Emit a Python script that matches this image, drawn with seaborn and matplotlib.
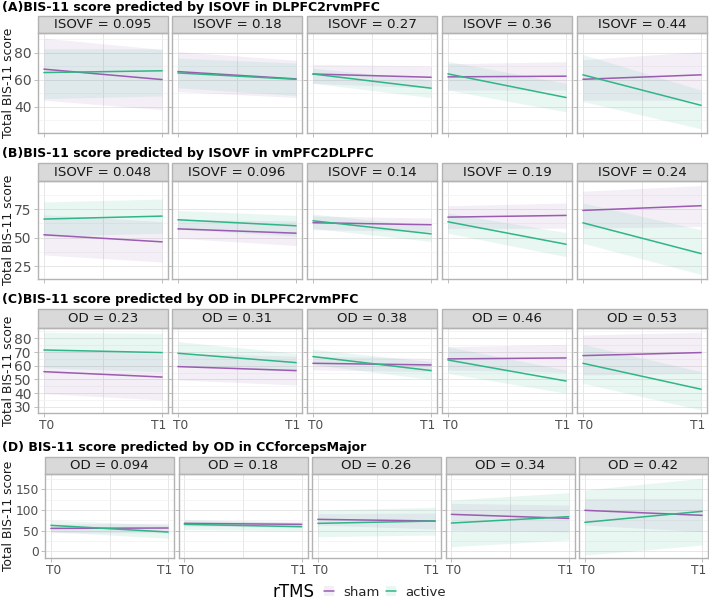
import matplotlib.pyplot as plt
import pandas as pd
import seaborn as sns
from matplotlib.patches import Rectangle, Patch
from matplotlib.lines import Line2D
from matplotlib.transforms import ScaledTranslation

sns.set_theme(style='white')
plt.rcParams['font.family'] = ['DejaVu Sans']

# x positions of the two time points and their labels
time_x = [0, 1]
time_labels = ['T0', 'T1']
groups = ['sham', 'active']
palette = {'sham': '#9A5BB0', 'active': '#2FB586'}

# ---- (A) ISOVF in DLPFC2rvmPFC ----
a_title = '(A)BIS-11 score predicted by ISOVF in DLPFC2rvmPFC'
a_facets = ['ISOVF = 0.095', 'ISOVF = 0.18', 'ISOVF = 0.27', 'ISOVF = 0.36', 'ISOVF = 0.44']
a_sham = [[68, 60.3], [66.2, 60.8], [64.4, 62], [62.3, 62.8], [60.5, 63.8]]
a_sham_lo = [[45, 38], [51.4, 47], [57.5, 54], [52.5, 52.5], [45, 45]]
a_sham_hi = [[91, 82.6], [81, 74.6], [71.5, 70.4], [72, 73.5], [75, 81]]
a_active = [[65.5, 66.8], [65.2, 60.5], [64.4, 53.9], [64.5, 47], [63.8, 41.2]]
a_active_lo = [[46.2, 48.2], [54.2, 48.5], [57.5, 46.9], [52.5, 36.3], [44, 23.8]]
a_active_hi = [[83.2, 83], [76.2, 72.5], [68.7, 60], [73.8, 57.5], [78.8, 52.5]]

# ---- (B) ISOVF in vmPFC2DLPFC ----
b_title = '(B)BIS-11 score predicted by ISOVF in vmPFC2DLPFC'
b_facets = ['ISOVF = 0.048', 'ISOVF = 0.096', 'ISOVF = 0.14', 'ISOVF = 0.19', 'ISOVF = 0.24']
b_sham = [[52.4, 46.2], [57.6, 53.8], [63, 61.2], [67.9, 69.4], [73.8, 77.9]]
b_sham_lo = [[34.7, 28.5], [49.4, 43], [57, 55.3], [57.9, 58.2], [58.2, 59.7]]
b_sham_hi = [[70, 64], [65.8, 64.6], [69, 67], [77.9, 80.3], [90.6, 95.6]]
b_active = [[66.2, 68.8], [65.6, 60.3], [64.7, 53.2], [63.8, 44.1], [62.9, 35.9]]
b_active_lo = [[51.2, 53.8], [57.4, 51.2], [58, 46.5], [53.8, 33.2], [45, 17.6]]
b_active_hi = [[81.2, 83.8], [73.8, 69.4], [70.6, 59.7], [71.5, 54.4], [80.3, 56.8]]

# ---- (C) OD in DLPFC2rvmPFC ----
c_title = '(C)BIS-11 score predicted by OD in DLPFC2rvmPFC'
c_facets = ['OD = 0.23', 'OD = 0.31', 'OD = 0.38', 'OD = 0.46', 'OD = 0.53']
c_sham = [[55.7, 51.8], [59.4, 56.5], [61.8, 60.6], [65, 65.7], [67.4, 69.6]]
c_sham_lo = [[39.7, 35.1], [49.7, 46], [57, 55.7], [56.9, 55.2], [53.3, 54.5]]
c_sham_hi = [[71.7, 68.5], [69.1, 67], [67, 65.4], [73.9, 75.6], [82.4, 84.4]]
c_active = [[71.5, 69.6], [69.1, 62.3], [66.7, 56.5], [64.2, 48.9], [61.8, 42.9]]
c_active_lo = [[58.6, 55.6], [60.6, 55.5], [61, 50], [54.5, 40], [47.2, 27.8]]
c_active_hi = [[84.4, 83.6], [77.6, 69.1], [72, 63], [73.9, 56.9], [75.6, 55.7]]

# ---- (D) OD in CCforcepsMajor ----
d_title = '(D) BIS-11 score predicted by OD in CCforcepsMajor'
d_facets = ['OD = 0.094', 'OD = 0.18', 'OD = 0.26', 'OD = 0.34', 'OD = 0.42']
d_sham = [[55.6, 56.5], [67.7, 65.3], [77.4, 73.4], [89.5, 79.8], [99.2, 87.1]]
d_sham_lo = [[45, 45], [61.3, 58], [63.7, 54], [51.6, 47], [63.7, 47.6]]
d_sham_hi = [[66, 68], [74, 72.6], [91, 92.8], [116, 112], [128.2, 128.2]]
d_active = [[62.9, 46.8], [65.3, 59.7], [67.7, 73.4], [68.5, 83.9], [70.2, 96.8]]
d_active_lo = [[47.6, 31.5], [53.2, 49.2], [35.5, 39.5], [11.3, 27.4], [-8.9, 15.3]]
d_active_hi = [[75.8, 63.7], [77.4, 69.4], [100, 106.5], [124.2, 141.9], [148.4, 176.6]]

rows = [
    (a_title, a_facets, a_sham, a_sham_lo, a_sham_hi, a_active, a_active_lo, a_active_hi),
    (b_title, b_facets, b_sham, b_sham_lo, b_sham_hi, b_active, b_active_lo, b_active_hi),
    (c_title, c_facets, c_sham, c_sham_lo, c_sham_hi, c_active, c_active_lo, c_active_hi),
    (d_title, d_facets, d_sham, d_sham_lo, d_sham_hi, d_active, d_active_lo, d_active_hi),
]

# layout (pixels)
W, H = 709, 601
row_cols = [  # panel left edges and width per row
    ([38, 172, 307, 442, 577], 130),
    ([38, 172, 307, 442, 577], 130),
    ([38, 172, 307, 442, 577], 130),
    ([45, 178.5, 312, 445.5, 579], 129),
]
row_layout = [  # strip top, panel top, panel bottom, title y
    (16, 33, 133, 8),
    (163, 181, 279, 153),
    (309, 328, 413, 300),
    (457, 474, 558, 447),
]
ylims = [(20.7, 94.8), (13.6, 99.6), (25.6, 87.5), (-16, 187)]
yticks = [[40, 60, 80], [25, 50, 75], [30, 40, 50, 60, 70, 80], [0, 50, 100, 150]]
yminor = [[30, 50, 70, 90], [37.5, 62.5, 87.5], [35, 45, 55, 65, 75, 85], [25, 75, 125, 175]]
ytick_size = [10, 10, 10, 8.8]
label_shift = [1.8, -2.4]  # points; nudges T0 right, T1 left as in the original

fig = plt.figure(figsize=(W / 100, H / 100), dpi=100)

for r, (title, facets, sh, sh_lo, sh_hi, ac, ac_lo, ac_hi) in enumerate(rows):
    s_top, p_top, p_bot, t_y = row_layout[r]
    lefts, panel_w = row_cols[r]
    p_h = p_bot - p_top
    fig.text(2 / W, 1 - t_y / H, title, fontsize=9, fontweight='bold',
             ha='left', va='center', color='black')
    fig.text(9 / W, 1 - (p_top + p_h / 2) / H, 'Total BIS-11 score', rotation=90,
             fontsize=8.9, ha='center', va='center', color='#1A1A1A')
    for c in range(5):
        ax = fig.add_axes([lefts[c] / W, 1 - p_bot / H, panel_w / W, p_h / H])
        df = pd.DataFrame({
            'time': time_x * 2,
            'score': sh[c] + ac[c],
            'rTMS': ['sham'] * 2 + ['active'] * 2,
        })
        ax.fill_between(time_x, sh_lo[c], sh_hi[c], color=palette['sham'],
                        alpha=0.1, lw=0, zorder=1)
        ax.fill_between(time_x, ac_lo[c], ac_hi[c], color=palette['active'],
                        alpha=0.1, lw=0, zorder=1)
        sns.lineplot(data=df, x='time', y='score', hue='rTMS', hue_order=groups,
                     palette=palette, legend=False, lw=1.1, ax=ax, zorder=3)
        ax.set_xlim(-0.05, 1.05)
        ax.set_ylim(*ylims[r])
        ax.set_xticks(time_x)
        ax.set_xticks([0.5], minor=True)
        ax.set_xticklabels(time_labels if r >= 2 else ['', ''])
        ax.set_yticks(yticks[r])
        ax.set_yticks(yminor[r], minor=True)
        if c > 0:
            ax.set_yticklabels([])
        ax.set_xlabel('')
        ax.set_ylabel('')
        ax.set_axisbelow(True)
        ax.grid(which='major', color='#E3E3E3', lw=0.6)
        ax.grid(which='minor', axis='x', color='#E3E3E3', lw=0.6)
        ax.grid(which='minor', axis='y', color='#F2F2F2', lw=0.5)
        ax.tick_params(axis='both', which='major', length=3, width=0.6, color='#B3B3B3',
                       labelcolor='#4D4D4D', pad=1.5, bottom=True, left=True)
        ax.tick_params(axis='y', which='major', labelsize=ytick_size[r])
        ax.tick_params(axis='x', which='major', labelsize=8.8)
        ax.tick_params(which='minor', length=0)
        # nudge T0 / T1 inward, after tick_params so the pad reset doesn't undo it
        for lab, dx in zip(ax.get_xticklabels(), label_shift):
            lab.set_transform(lab.get_transform() + ScaledTranslation(dx / 72, 0, fig.dpi_scale_trans))
        for sp in ax.spines.values():
            sp.set_color('#B3B3B3')
            sp.set_linewidth(1)
        sh_frac = (p_top - s_top) / p_h
        ax.add_patch(Rectangle((0, 1), 1, sh_frac, transform=ax.transAxes, clip_on=False,
                               fc='#D9D9D9', ec='#B3B3B3', lw=1))
        ax.text(0.5, 1 + sh_frac / 2, facets[c], transform=ax.transAxes, ha='center',
                va='center', fontsize=9.6, color='#1A1A1A')

# legend
fig.text(294 / W, 1 - 592 / H, 'rTMS', fontsize=12, ha='center', va='center', color='black')
handles = [(Patch(fc=palette[g], alpha=0.1, lw=0), Line2D([], [], color=palette[g], lw=1.1))
           for g in groups]
fig.legend(handles, groups, loc='center', bbox_to_anchor=(385 / W, 1 - 592 / H), ncol=2,
           frameon=False, fontsize=9.5, handlelength=0.8, handletextpad=0.7,
           columnspacing=0.45, borderpad=0, borderaxespad=0)

fig.savefig('out.png', dpi=100)
